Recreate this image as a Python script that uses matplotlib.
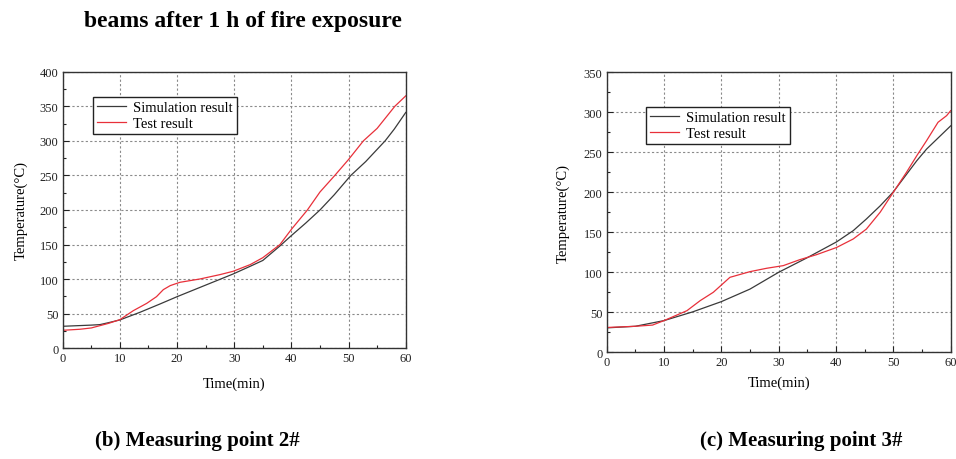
import matplotlib
matplotlib.use("Agg")
import matplotlib.pyplot as plt
from matplotlib.ticker import MultipleLocator

plt.rcParams["font.family"] = ["Liberation Serif", "DejaVu Serif"]

# Measuring point 2#
t2_sim = [0, 5, 6.5, 8, 10, 13.5, 17, 20, 24, 29.8, 32.8, 35, 38, 40, 42.5, 45, 47.5, 50.4, 53, 56.4, 58, 60]
T2_sim = [31.8, 33.5, 34.2, 37, 41, 52, 64, 74.6, 88, 107.4, 118.6, 127, 148, 163, 181, 200, 222, 250, 270, 300, 317, 341]
t2_test = [0, 3, 5, 6.5, 8, 10, 12.35, 14.7, 16.4, 17.6, 18.8, 20.5, 24, 27.5, 29.8, 32.8, 35, 38, 40,
           42.8, 45, 47.6, 50, 52.6, 55, 58.1, 60]
T2_test = [26, 27.5, 29.4, 32.7, 36, 41.4, 54.4, 65, 74.6, 84.8, 90.6, 95.4, 100.2, 106.5, 111.3, 121, 131, 150, 172,
           200, 226, 250, 273, 300, 318, 350, 365]

# Measuring point 3#
t3_sim = [0, 5, 10, 15, 20, 25, 30, 34.9, 40.1, 43, 45.3, 47.7, 50, 54.1, 55.8, 60]
T3_sim = [30.5, 32.5, 39.6, 50.5, 63.3, 79, 100, 117.9, 138, 152, 166.6, 183, 200.5, 239.5, 254, 283]
t3_test = [0, 5, 8, 10, 14, 16.3, 18.6, 20, 21.5, 25, 27.9, 30.8, 33.7, 36.6, 40.1, 43, 45.3, 47.7, 50,
           52.3, 54.1, 55.8, 57.8, 59.3, 60]
T3_test = [31, 32.5, 34, 39.6, 52, 64.5, 75, 84, 93.7, 100.8, 105, 108.3, 115.8, 122, 131, 141.6, 154, 175, 200,
           225, 245.8, 264.5, 287.5, 295.8, 302]

title_text = "beams after 1 h of fire exposure"
captions = ["(b) Measuring point 2#", "(c) Measuring point 3#"]
legend_labels = ["Simulation result", "Test result"]
xlabel = "Time(min)"
ylabel = "Temperature(\u00b0C)"

sim_color = "#3a3a3a"
test_color = "#e8303a"

fig = plt.figure(figsize=(9.56, 4.6), dpi=100)
ax_l = fig.add_axes([0.0656, 0.2407, 0.3588, 0.6013])
ax_r = fig.add_axes([0.6346, 0.2320, 0.3598, 0.6087])


def style_axes(ax, ymax, xpad, ypad):
    ax.set_xlim(0, 60)
    ax.set_ylim(0, ymax)
    ax.xaxis.set_major_locator(MultipleLocator(10))
    ax.xaxis.set_minor_locator(MultipleLocator(5))
    ax.yaxis.set_major_locator(MultipleLocator(50))
    ax.yaxis.set_minor_locator(MultipleLocator(25))
    ax.tick_params(which="both", direction="in", top=False, right=False,
                   labelsize=9, colors="#222222", pad=3)
    ax.tick_params(which="major", length=4, width=0.8)
    ax.tick_params(which="minor", length=2.5, width=0.8)
    ax.grid(True, which="major", color="#8a8a8a", linestyle=(0, (2, 2)), linewidth=0.8)
    for s in ax.spines.values():
        s.set_color("#333333")
        s.set_linewidth(1.0)
    ax.set_xlabel(xlabel, fontsize=10.5, labelpad=xpad)
    ax.set_ylabel(ylabel, fontsize=10.5, labelpad=ypad)


for ax, ts, Ts, tt, Tt, ymax, xpad, ypad in [
    (ax_l, t2_sim, T2_sim, t2_test, T2_test, 400, 9, 9),
    (ax_r, t3_sim, T3_sim, t3_test, T3_test, 350, 5, 10),
]:
    style_axes(ax, ymax, xpad, ypad)
    ax.plot(ts, Ts, color=sim_color, lw=0.9, label=legend_labels[0])
    ax.plot(tt, Tt, color=test_color, lw=0.9, label=legend_labels[1])

legend_kw = dict(loc="upper left", bbox_transform=fig.transFigure, borderaxespad=0,
                 fontsize=10.5, frameon=True, fancybox=False, handlelength=1.95,
                 handletextpad=0.5, borderpad=0.3, labelspacing=0.18)
leg_l = ax_l.legend(bbox_to_anchor=(92.7 / 956, 1 - 97.7 / 460), **legend_kw)
leg_r = ax_r.legend(bbox_to_anchor=(646 / 956, 1 - 107.7 / 460), **legend_kw)
for leg in (leg_l, leg_r):
    fr = leg.get_frame()
    fr.set_edgecolor("#222222")
    fr.set_linewidth(1.0)
    fr.set_facecolor("white")
    fr.set_alpha(1)

fig.text(243 / 956, 1 - 22 / 460, title_text, ha="center", va="center",
         fontsize=17, fontweight="bold")
fig.text(197 / 956, 1 - 441 / 460, captions[0], ha="center", va="center",
         fontsize=15, fontweight="bold")
fig.text(801 / 956, 1 - 441 / 460, captions[1], ha="center", va="center",
         fontsize=15, fontweight="bold")

fig.savefig("out.png", dpi=100)
